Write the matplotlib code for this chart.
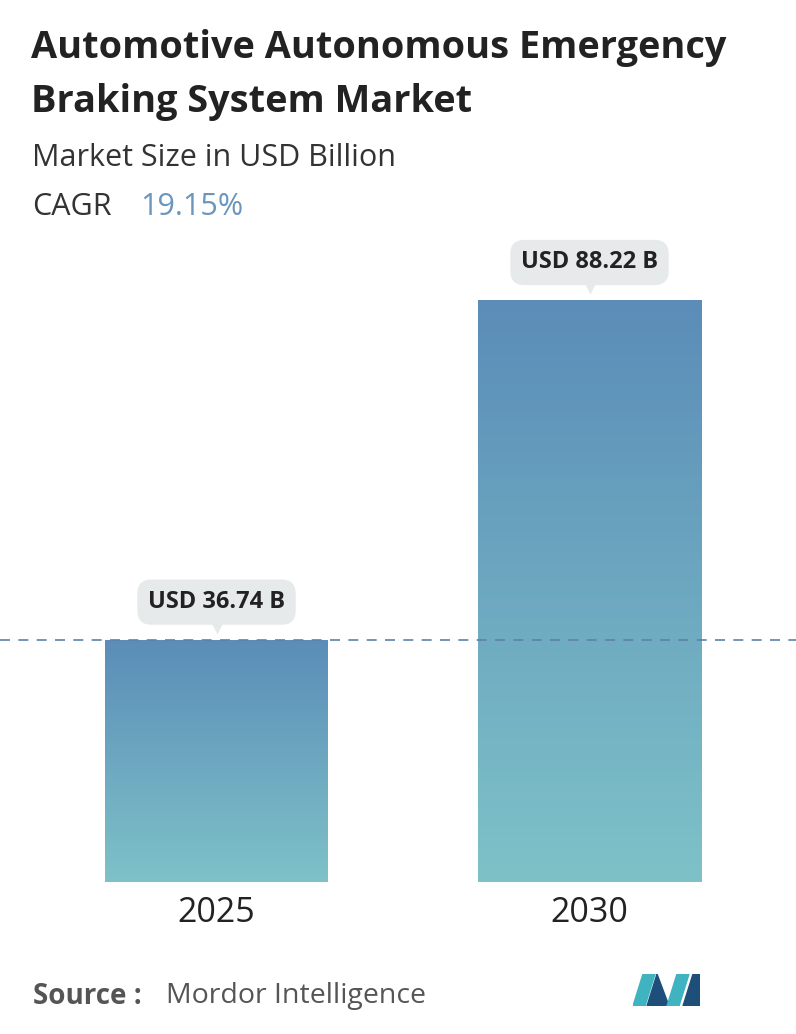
import matplotlib
matplotlib.use("Agg")
import matplotlib.pyplot as plt
import numpy as np
from matplotlib.patches import Polygon
from matplotlib.colors import LinearSegmentedColormap
from matplotlib.transforms import offset_copy

years = ["2025", "2030"]
values = [36.74, 88.22]
labels = ["USD 36.74 B", "USD 88.22 B"]

W, H = 796, 1034
fig = plt.figure(figsize=(W/100, H/100), dpi=100)
fig.patch.set_facecolor("white")
plt.rcParams['font.family'] = ['Open Sans', 'DejaVu Sans']

def fx(p): return p / W
def fy(p): return 1 - p / H

fig.text(fx(31), fy(48), "Automotive Autonomous Emergency", fontsize=27.3, fontweight="bold", color="#222222", va="center")
fig.text(fx(31), fy(102), "Braking System Market", fontsize=27.3, fontweight="bold", color="#222222", va="center")
fig.text(fx(32), fy(158), "Market Size in USD Billion", fontsize=22, color="#333333", va="center")
fig.text(fx(32), fy(207), "CAGR", fontsize=22, color="#333333", va="center")
fig.text(fx(140), fy(207), "19.15%", fontsize=22, color="#6a95bd", va="center")

ymax = values[1]
ax = fig.add_axes([0, fy(882), 1, (882-300)/H])
width = 223/373
cmap = LinearSegmentedColormap.from_list("g", ["#7ec2c8", "#5b8db8"])
grad = np.linspace(0, 1, 256).reshape(-1, 1)
for i, v in enumerate(values):
    bars = ax.bar(i, v, width=width, color="none")
    im = ax.imshow(grad, cmap=cmap, origin="lower", aspect="auto",
                   extent=[i-width/2, i+width/2, 0, v])
    im.set_clip_path(bars[0])
ax.axhline(values[0], color="#5b83a8", ls=(0, (6, 5)), lw=1.2, zorder=0)
ax.set_xlim(-216.5/373, (796-216.5)/373)
ax.set_ylim(0, ymax)
ax.axis("off")

for i, (v, t) in enumerate(zip(values, labels)):
    ax.annotate(t, (i, v), xytext=(0, 27), textcoords="offset points", ha="center", va="center",
                fontsize=17, fontweight="bold", color="#222222", annotation_clip=False,
                bbox=dict(boxstyle="round,pad=0.45,rounding_size=0.6", fc="#e6eaea", ec="none"))
    tr = offset_copy(ax.transData, fig=fig, x=0, y=10, units="points")
    ax.plot([i], [v], marker="v", ms=11, color="#e6eaea", mec="none", transform=tr, clip_on=False)

for i, y in enumerate(years):
    fig.text(fx(216.5 + 373*i), fy(913), y, fontsize=24.5, color="#222222", ha="center", va="center")

fig.text(fx(33), fy(996), "Source :", fontsize=20, fontweight="bold", color="#555555", va="center")
fig.text(fx(166), fy(996), "Mordor Intelligence", fontsize=20.5, color="#555555", va="center")

lax = fig.add_axes([fx(633), fy(1006), (700-633)/W, 32/H])
lax.set_xlim(0, 67); lax.set_ylim(0, 32); lax.axis("off")
lax.add_patch(Polygon([[0, 0], [10, 32], [22, 32], [12, 0]], color="#3fb3c0"))
lax.add_patch(Polygon([[14, 0], [24, 32], [36, 0]], color="#1d4f7a"))
lax.add_patch(Polygon([[34, 0], [44, 32], [56, 32], [46, 0]], color="#3fb3c0"))
lax.add_patch(Polygon([[50, 0], [60, 32], [67, 32], [67, 0]], color="#1d4f7a"))

fig.savefig("out.png", dpi=100, facecolor="white")
